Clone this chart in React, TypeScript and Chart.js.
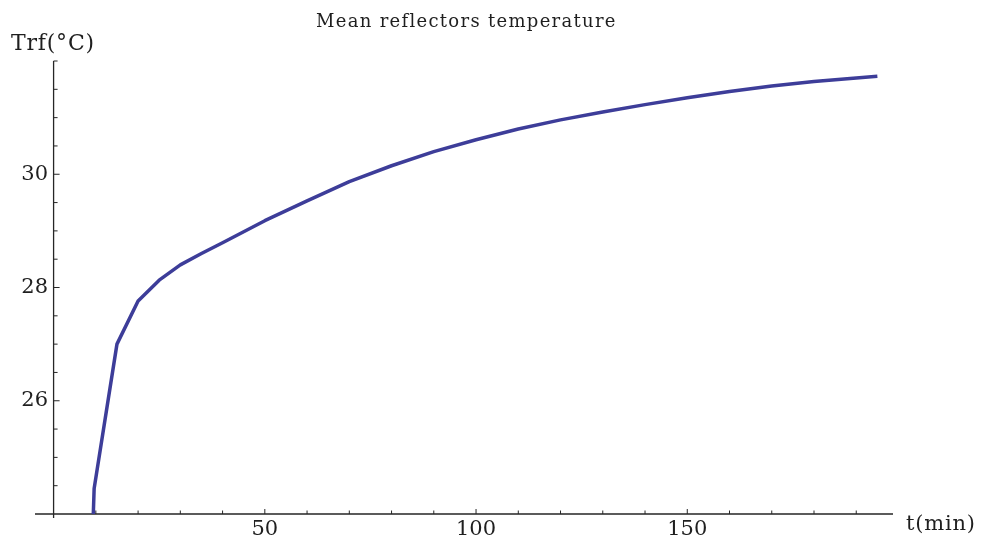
import React, { useEffect, useRef } from 'react';
import { Chart, registerables } from 'chart.js';

Chart.register(...registerables);

// Time (min) and mean reflector temperature (°C)
const timeMin = [9.4, 9.6, 15, 20, 25, 30, 35, 40, 50, 60, 70, 80, 90, 100, 110, 120, 130, 140, 150, 160, 170, 180, 190, 195];
const trf = [24.0, 24.45, 27.0, 27.76, 28.13, 28.4, 28.6, 28.79, 29.18, 29.53, 29.87, 30.15, 30.4, 30.61, 30.8, 30.96, 31.1, 31.23, 31.35, 31.46, 31.56, 31.64, 31.7, 31.73];

const xTickLabels = [50, 100, 150];
const yTickLabels = [26, 28, 30];
const xRange = [-4.4, 198.7];
const yRange = [24, 32];
const xStep = 10;
const yStep = 0.5;

const titleText = 'Mean reflectors temperature';
const yAxisTitle = 'Trf(°C)';
const xAxisTitle = 't(min)';

const FONT = '"DejaVu Serif", serif';

const axesPlugin = {
  id: 'mmaAxes',
  beforeDatasetsDraw(chart: any) {
    const { ctx, chartArea, scales } = chart;
    const x = scales.x;
    const y = scales.y;
    const x0 = x.getPixelForValue(0);
    const y0 = y.getPixelForValue(yRange[0]);
    ctx.save();
    ctx.strokeStyle = '#262626';
    ctx.lineWidth = 1.3;
    ctx.beginPath();
    ctx.moveTo(chartArea.left, y0);
    ctx.lineTo(chartArea.right, y0);
    ctx.moveTo(x0, chartArea.top);
    ctx.lineTo(x0, y0 + 4);
    ctx.stroke();
    ctx.lineWidth = 1;
    ctx.beginPath();
    x.ticks.forEach((t: any) => {
      if (t.value <= 0) return;
      const px = x.getPixelForValue(t.value);
      const len = xTickLabels.includes(t.value) ? 5 : 3.5;
      ctx.moveTo(px, y0);
      ctx.lineTo(px, y0 - len);
    });
    y.ticks.forEach((t: any) => {
      if (t.value <= yRange[0]) return;
      const py = y.getPixelForValue(t.value);
      const len = yTickLabels.includes(t.value) ? 6 : 4;
      ctx.moveTo(x0, py);
      ctx.lineTo(x0 + len, py);
    });
    ctx.stroke();
    ctx.restore();
  },
};

export default function App() {
  const canvasRef = useRef<HTMLCanvasElement | null>(null);

  useEffect(() => {
    const canvas = canvasRef.current;
    if (!canvas) return;
    const chart = new Chart(canvas, {
      type: 'line',
      data: {
        datasets: [
          {
            data: timeMin.map((t, i) => ({ x: t, y: trf[i] })),
            borderColor: '#3d3d99',
            borderWidth: 3.5,
            pointRadius: 0,
            tension: 0,
            fill: false,
            clip: false as any,
            borderJoinStyle: 'round',
          },
        ],
      },
      options: {
        animation: false,
        responsive: true,
        maintainAspectRatio: false,
        layout: { padding: { left: 35, right: 89, top: 61, bottom: 0 } },
        plugins: {
          legend: { display: false },
          tooltip: { enabled: false },
          title: { display: false },
        },
        scales: {
          x: {
            type: 'linear',
            position: 'bottom',
            min: xRange[0],
            max: xRange[1],
            grid: { display: false, drawTicks: false },
            border: { display: false },
            afterFit: (scale: any) => {
              scale.height = 28;
            },
            ticks: {
              stepSize: xStep,
              includeBounds: false,
              autoSkip: false,
              maxRotation: 0,
              padding: 3,
              color: '#1f1f1f',
              font: { family: FONT, size: 21 },
              callback: (v: any) => (xTickLabels.includes(Number(v)) ? String(v) : ''),
            },
          },
          y: {
            type: 'linear',
            position: { x: -1.3 } as any,
            min: yRange[0],
            max: yRange[1],
            grid: { display: false, drawTicks: false },
            border: { display: false },
            ticks: {
              stepSize: yStep,
              includeBounds: false,
              autoSkip: false,
              padding: 0,
              color: '#1f1f1f',
              font: { family: FONT, size: 21 },
              callback: (v: any) => (yTickLabels.includes(Number(v)) ? String(v) : ''),
            },
          },
        },
      },
      plugins: [axesPlugin],
    });
    return () => chart.destroy();
  }, []);

  const textBase: React.CSSProperties = {
    position: 'absolute',
    fontFamily: FONT,
    color: '#1f1f1f',
    lineHeight: 1,
    whiteSpace: 'nowrap',
  };

  return (
    <div style={{ position: 'fixed', left: 0, top: 0, width: 982, height: 542, background: '#fff' }}>
      <canvas ref={canvasRef} />
      <div style={{ ...textBase, left: 316, top: 12, fontSize: 18, letterSpacing: 1.3 }}>{titleText}</div>
      <div style={{ ...textBase, left: 11, top: 32, fontSize: 22, letterSpacing: 0.8 }}>{yAxisTitle}</div>
      <div style={{ ...textBase, left: 906, top: 513, fontSize: 21, letterSpacing: 0.8 }}>{xAxisTitle}</div>
    </div>
  );
}
